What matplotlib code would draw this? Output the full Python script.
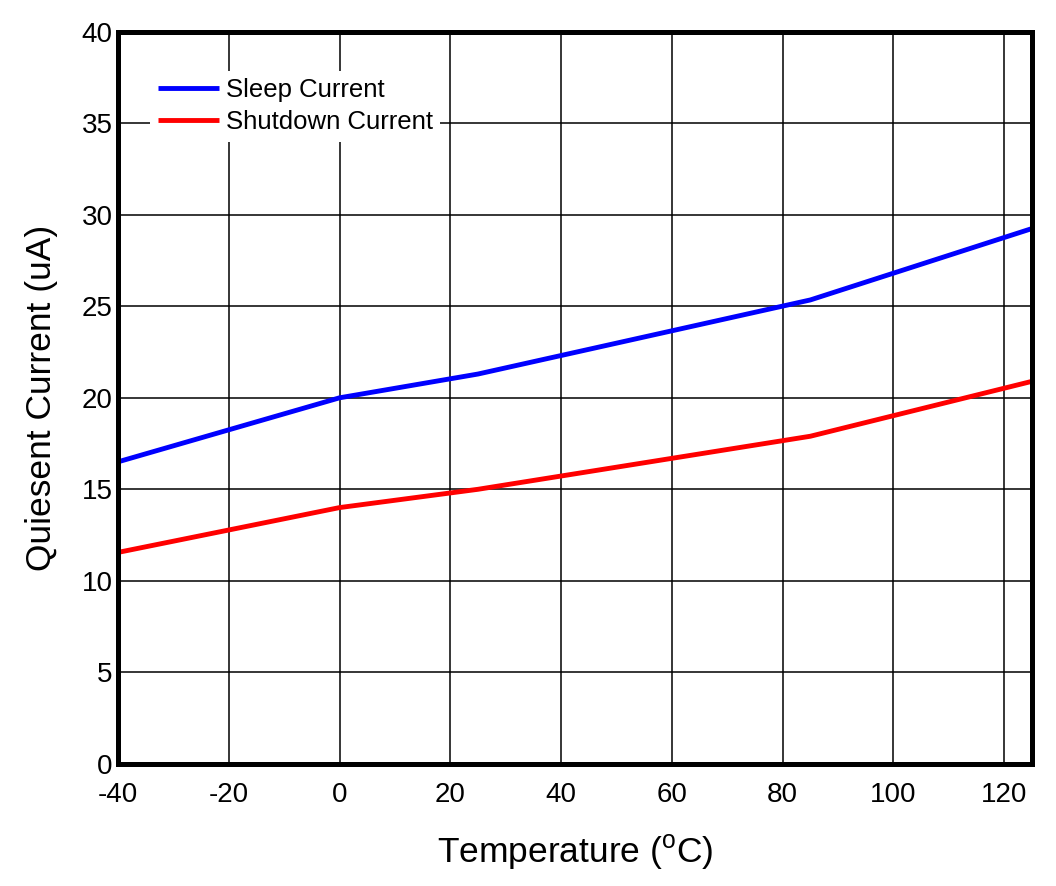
import matplotlib
matplotlib.use('Agg')
import matplotlib.pyplot as plt

plt.rcParams['font.family'] = ['Liberation Sans', 'DejaVu Sans']
plt.rcParams['axes.unicode_minus'] = False
plt.rcParams['mathtext.fontset'] = 'custom'
plt.rcParams['mathtext.rm'] = 'Liberation Sans'

temp = [-40, 0, 25, 85, 125]
sleep_current = [16.5, 20.0, 21.3, 25.35, 29.25]
shutdown_current = [11.55, 14.0, 15.0, 17.9, 20.9]

x_ticks = [-40, -20, 0, 20, 40, 60, 80, 100, 120]
y_ticks = [0, 5, 10, 15, 20, 25, 30, 35, 40]

fig = plt.figure(figsize=(10.56, 8.86), dpi=100)
ax = fig.add_axes([0.1117, 0.138, 0.8655, 0.826])

ax.plot(temp, sleep_current, color='#0000ff', lw=3.5, label='Sleep Current', solid_capstyle='butt')
ax.plot(temp, shutdown_current, color='#ff0000', lw=3.5, label='Shutdown Current', solid_capstyle='butt')

ax.set_xlim(-40, 125)
ax.set_ylim(0, 40)
ax.set_xticks(x_ticks)
ax.set_yticks(y_ticks)
ax.grid(True, color='black', lw=1.1)
ax.tick_params(length=0, labelsize=20)
ax.tick_params(axis='x', pad=13)
ax.tick_params(axis='y', pad=4)
for s in ax.spines.values():
    s.set_linewidth(3.6)

ax.set_xlabel('Temperature ($^{\\mathregular{o}}$C)', fontsize=25.5, labelpad=18)
ax.set_ylabel('Quiesent Current (uA)', fontsize=25.5, labelpad=17)

leg = ax.legend(loc='upper left', bbox_to_anchor=(0.035, 0.947), frameon=True,
                fontsize=18.5, fancybox=False, edgecolor='white', framealpha=1,
                handlelength=2.4, handletextpad=0.25, borderpad=0.3, labelspacing=0.31,
                borderaxespad=0)
leg.get_frame().set_linewidth(0)

fig.savefig('out.png', dpi=100)
